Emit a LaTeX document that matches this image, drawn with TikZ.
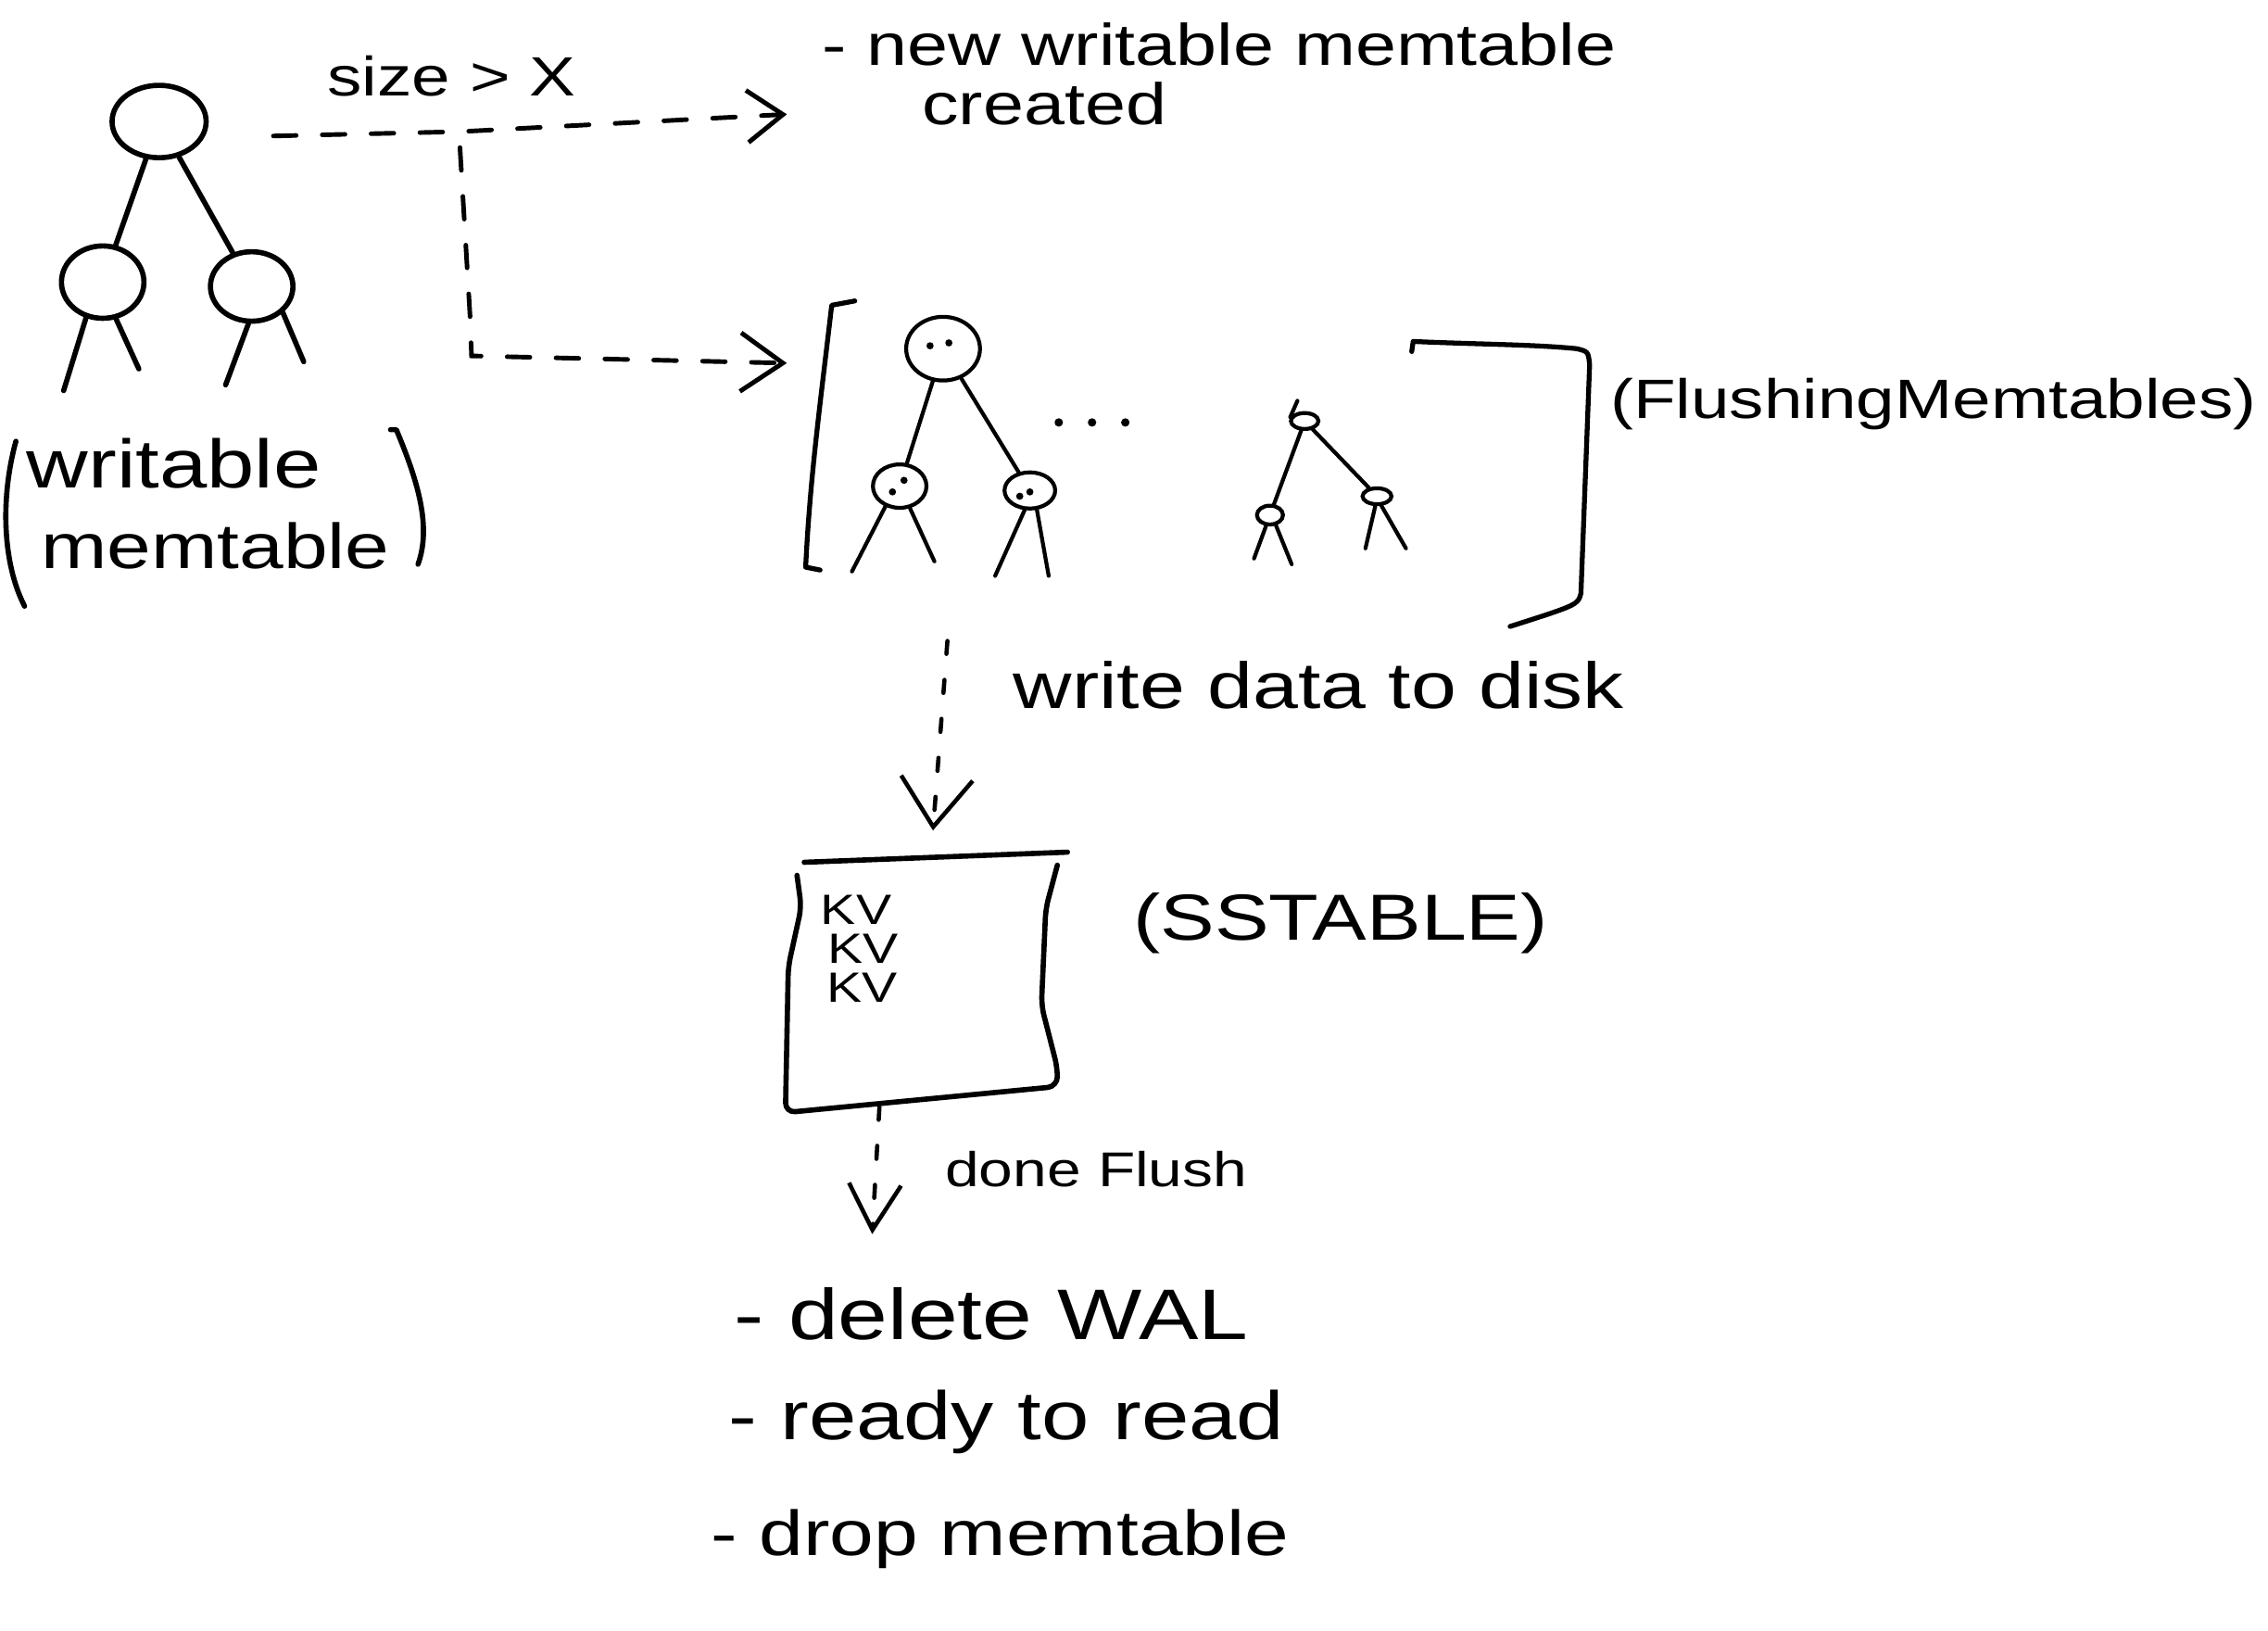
\documentclass[tikz,border=0pt]{standalone}
\usepackage{fontspec}
\newfontfamily\hand[FakeStretch=1.25]{Liberation Sans}
\usetikzlibrary{shapes.geometric,arrows.meta}
\newdimen\un \un=0.44439pt
\newcommand\hsz[1]{\fontsize{#1}{#1}\selectfont}
\tikzset{
  hw/.style={font=\hand, inner sep=0pt, anchor=base west},
  tline/.style={line width=1.6pt, line cap=round, line join=round},
  fline/.style={line width=1.2pt, line cap=round, line join=round},
  tn/.style 2 args={draw, ellipse, inner sep=0pt, line width=1.6pt, minimum width=#1*\un, minimum height=#2*\un},
  fn/.style 2 args={draw, ellipse, inner sep=0pt, line width=1.2pt, minimum width=#1*\un, minimum height=#2*\un},
  dline/.style={line width=1.4pt, line cap=round, dash pattern=on 7pt off 8pt},
  sline/.style={line width=1.3pt, line cap=round, dash pattern=on 4pt off 8pt},
  dotm/.style={fill=black}
}
\begin{document}
\begin{tikzpicture}[x=0.015612cm, y=-0.015612cm]
\useasboundingbox[fill=white] (0,0) rectangle (1568,1127);

% ---------- writable memtable tree ----------
\node[tn={65}{50}] (wr) at (110,84) {};
\node[tn={57}{50}] (wl) at (71,195) {};
\node[tn={57}{48}] (wrc) at (174,198) {};
\draw[tline] (wr) -- (wl);
\draw[tline] (wr) -- (wrc);
\coordinate (wl1) at (44,270);
\coordinate (wl2) at (96,255);
\coordinate (wr1) at (156,266);
\coordinate (wr2) at (210,250);
\draw[tline] (wl.245) -- (wl1);
\draw[tline] (wl.290) -- (wl2);
\draw[tline] (wrc.265) -- (wr1);
\draw[tline] (wrc.320) -- (wr2);

% parentheses and label
\draw[tline] (11,305) .. controls (0,345) and (2,390) .. (17,419);
\draw[tline] (270,297) -- (274,297) .. controls (290,335) and (298,365) .. (289,390);
\node[hw, font=\hand\hsz{21}] (wlab1) at (18,337) {writable};
\node[hw, font=\hand\hsz{19.5}] (wlab2) at (28,393) {memtable};

% ---------- dashed arrows from writable memtable ----------
\coordinate (a1s) at (189,94);
\coordinate (aj) at (318,91);
\coordinate (a1e) at (544,79);
\coordinate (a2s) at (318,102);
\coordinate (a2m) at (325,219);
\coordinate (a2c) at (326,246);
\coordinate (a2e) at (544,251);
\draw[dline, -{Straight Barb[length=11pt, width=16pt]}] (a1s) -- (aj) -- (a1e);
\draw[dline, -{Straight Barb[length=13pt, width=18pt]}] (a2s) -- (a2m) -- (a2c) -- (a2e);
\node[hw, font=\hand\hsz{17}] (sizelab) at (226,66) {size > X};
\node[hw, font=\hand\hsz{18}] (newmt) at (568,45) {- new writable memtable};
\node[hw, font=\hand\hsz{18}] (created) at (637,86) {created};

% ---------- flushing memtables ----------
\draw[tline, line width=1.5pt] (591,208) -- (575,211) .. controls (567,280) and (560,330) .. (557,392) -- (567,394);
\draw[tline, line width=1.5pt] (976,243) -- (977,236) .. controls (1020,238) and (1060,238) .. (1090,241)
   .. controls (1098,243) .. (1099,252) -- (1093,410) .. controls (1091,418) .. (1044,433);

\node[fn={51}{44}] (froot) at (652,241) {};
\node[fn={37}{30}] (fl) at (622,336) {};
\node[fn={35}{25}] (fr) at (712,339) {};
\draw[fline] (froot) -- (fl);
\draw[fline] (froot) -- (fr);
\coordinate (fl1) at (589,395);
\coordinate (fl2) at (646,388);
\coordinate (fr1) at (688,398);
\coordinate (fr2) at (725,398);
\draw[fline] (fl.235) -- (fl1);
\draw[fline] (fl.295) -- (fl2);
\draw[fline] (fr.255) -- (fr1);
\draw[fline] (fr.290) -- (fr2);
\fill[dotm] (643,239) circle[radius=1.1pt] (656,237) circle[radius=1.1pt];
\fill[dotm] (617,340) circle[radius=1.1pt] (625,332) circle[radius=1.1pt];
\fill[dotm] (705,343) circle[radius=1.1pt] (712,340) circle[radius=1.1pt];

\fill[dotm] (732,292) circle[radius=1.3pt] (755,292) circle[radius=1.3pt] (778,292) circle[radius=1.3pt];

\node[fn={19}{11}] (sroot) at (902,291) {};
\node[fn={18}{13}] (sl) at (878,356) {};
\node[fn={20}{11}] (sr) at (952,343) {};
\coordinate (stail) at (897,277);
\draw[fline] (stail) -- (sroot.165);
\draw[fline] (sroot) -- (sl);
\draw[fline] (sroot) -- (sr);
\coordinate (sl1) at (867,386);
\coordinate (sl2) at (893,390);
\coordinate (sr1) at (944,379);
\coordinate (sr2) at (972,379);
\draw[fline] (sl.250) -- (sl1);
\draw[fline] (sl.300) -- (sl2);
\draw[fline] (sr.260) -- (sr1);
\draw[fline] (sr.295) -- (sr2);

\node[hw, font=\hand\hsz{17}] (flab) at (1113,289) {(FlushingMemtables)};

% ---------- write data to disk ----------
\coordinate (a3s) at (655,443);
\coordinate (a3e) at (645,574);
\draw[sline, -{Straight Barb[length=15pt, width=22pt]}] (a3s) -- (a3e);
\node[hw, font=\hand\hsz{20}] (wdd) at (700,490) {write data to disk};

% ---------- SSTable ----------
\draw[tline] (556,596) -- (738,589);
\draw[tline, rounded corners=3pt] (551,605) -- (554,627) -- (545,668) -- (543,769) -- (731,751)
   -- (731,738) -- (720,695) -- (723,628) -- (731,598);
\node[hw, font=\hand\hsz{13}] (kv1) at (567,639) {KV};
\node[hw, font=\hand\hsz{13}] (kv2) at (572,666) {KV};
\node[hw, font=\hand\hsz{13}] (kv3) at (571,693) {KV};
\node[hw, font=\hand\hsz{20}] (sslab) at (783,650) {(SSTABLE)};

% ---------- done flush ----------
\coordinate (a4s) at (608,765);
\coordinate (a4e) at (603,853);
\draw[sline, -{Straight Barb[length=14pt, width=16pt]}] (a4s) -- (a4e);
\node[hw, font=\hand\hsz{15}] (done) at (653,820) {done Flush};

\node[hw, font=\hand\hsz{22}] (l1) at (507,926) {- delete WAL};
\node[hw, font=\hand\hsz{21}] (l2) at (503,995) {- ready to read};
\node[hw, font=\hand\hsz{19.5}] (l3) at (491,1075) {- drop memtable};
\end{tikzpicture}
\end{document}
